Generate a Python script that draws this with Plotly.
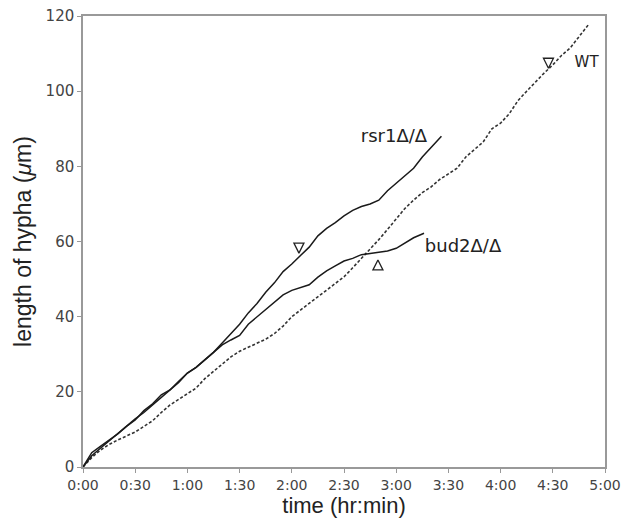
import plotly.graph_objects as go

# time in minutes, length in µm
rsr1_t = [0, 5, 10, 15, 20, 25, 30, 35, 40, 45, 50, 55, 60, 65, 70, 75, 80, 85, 90, 95, 100,
          105, 110, 115, 120, 125, 130, 135, 140, 145, 150, 155, 160, 165, 170, 175, 180, 185,
          190, 195, 200, 206]
rsr1_y = [0, 3.8, 5.5, 7.2, 8.8, 10.8, 12.5, 15, 16.8, 19.2, 20.5, 22.8, 25, 26.5, 28.5, 30.5,
          33, 35.5, 38, 41, 43.5, 46.5, 49, 52, 54, 56.3, 58.5, 61.5, 63.5, 65, 66.8, 68.3, 69.3,
          70, 71, 73.5, 75.5, 77.5, 79.5, 82.5, 85, 88]

bud2_t = [0, 5, 10, 15, 20, 25, 30, 35, 40, 45, 50, 55, 60, 65, 70, 75, 80, 85, 90, 95, 100,
          105, 110, 115, 120, 125, 130, 135, 140, 145, 150, 155, 160, 165, 170, 175, 180, 185,
          190, 196]
bud2_y = [0, 3, 5, 7, 9, 10.8, 12.8, 14.5, 16.5, 18.5, 20.5, 22.5, 25, 26.5, 28.5, 30.5, 32.5,
          33.8, 35, 38, 40, 42, 44, 45.8, 47, 47.8, 48.5, 50.5, 52.2, 53.5, 54.8, 55.5, 56.5,
          56.8, 57.2, 57.5, 58.2, 59.5, 61, 62.2]

wt_t = [0, 5, 10, 15, 20, 25, 30, 35, 40, 45, 50, 55, 60, 65, 70, 75, 80, 85, 90, 95, 100,
        105, 110, 115, 120, 125, 130, 135, 140, 145, 150, 155, 160, 165, 170, 175, 180, 185,
        190, 195, 200, 205, 210, 215, 220, 225, 230, 235, 240, 245, 250, 255, 260, 265, 270,
        275, 280, 285, 291]
wt_y = [0, 2.5, 4.5, 6, 7.2, 8.3, 9.3, 10.8, 12.3, 14.5, 16.5, 18, 19.5, 21, 23.5, 25.5, 27.5,
        29.3, 30.8, 31.8, 32.8, 34, 35.5, 37.5, 40, 41.8, 43.5, 45.3, 47, 48.8, 50.6, 53, 55.5,
        57.8, 60.5, 63.2, 66, 68.8, 71, 73, 74.5, 76.5, 78, 79.5, 82.5, 84.5, 86.5, 90, 91.5,
        94, 97.5, 100, 102.5, 104.8, 107, 109.5, 111.5, 114.5, 118]

# event markers (time, length) – tip of the arrowhead
mark_down_t = [124.1, 267.5]
mark_down_y = [56.9, 106.1]
mark_up_t = [169.5]
mark_up_y = [55.1]

labels = ["rsr1Δ/Δ", "bud2Δ/Δ"]
label_t = [178.7, 218.4]
label_y = [87.8, 58.5]
wt_label = ["WT"]
wt_label_t = [289.4]
wt_label_y = [107.5]

x_tickvals = [0, 30, 60, 90, 120, 150, 180, 210, 240, 270, 300]
x_ticktext = ["0:00", "0:30", "1:00", "1:30", "2:00", "2:30", "3:00", "3:30", "4:00", "4:30", "5:00"]
y_tickvals = [0, 20, 40, 60, 80, 100, 120]

fig = go.Figure()
fig.add_trace(go.Scatter(x=wt_t, y=wt_y, mode="lines",
                         line=dict(color="#333", width=1.6, dash="3px,2px")))
fig.add_trace(go.Scatter(x=bud2_t, y=bud2_y, mode="lines",
                         line=dict(color="#1a1a1a", width=1.5)))
fig.add_trace(go.Scatter(x=rsr1_t, y=rsr1_y, mode="lines",
                         line=dict(color="#1a1a1a", width=1.5)))
fig.add_trace(go.Scatter(x=mark_down_t, y=mark_down_y, mode="markers",
                         marker=dict(symbol="arrow-down-open", size=10,
                                     color="#222", line=dict(width=1.3, color="#222"))))
fig.add_trace(go.Scatter(x=mark_up_t, y=mark_up_y, mode="markers",
                         marker=dict(symbol="arrow-up-open", size=10,
                                     color="#222", line=dict(width=1.3, color="#222"))))
fig.add_trace(go.Scatter(x=label_t, y=label_y, mode="text", text=labels,
                         textposition="middle center",
                         textfont=dict(family="DejaVu Sans", size=18, color="#222")))
fig.add_trace(go.Scatter(x=wt_label_t, y=wt_label_y, mode="text", text=wt_label,
                         textposition="middle center",
                         textfont=dict(family="DejaVu Sans", size=15, color="#222")))

fig.update_layout(
    width=621, height=525,
    margin=dict(l=83, r=16, t=16, b=58),
    paper_bgcolor="white", plot_bgcolor="white",
    showlegend=False,
    xaxis=dict(range=[0, 300], tickvals=x_tickvals, ticktext=x_ticktext,
               showgrid=False, zeroline=False, showline=True, linecolor="#999",
               linewidth=1.5, mirror=True, ticks="outside", ticklen=4, tickcolor="#999",
               automargin=False,
               tickfont=dict(family="DejaVu Sans", size=14, color="#444"),
               title=dict(text="time (hr:min)", standoff=4,
                          font=dict(family="Liberation Sans", size=22, color="#222"))),
    yaxis=dict(range=[0, 120], tickvals=y_tickvals,
               showgrid=False, zeroline=False, showline=True, linecolor="#999",
               linewidth=1.5, mirror=True, ticks="outside", ticklen=4, tickcolor="#999",
               automargin=False,
               tickfont=dict(family="DejaVu Sans", size=15, color="#444"),
               title=dict(text="length of hypha (<i>μ</i>m)", standoff=8,
                          font=dict(family="Liberation Sans", size=23, color="#222"))),
)

# remove the browser's default page margin so the figure fills the window exactly
fig.write_html("out.html",
               config={"displayModeBar": False},
               post_script="document.body.style.margin='0';document.body.style.overflow='hidden';")
